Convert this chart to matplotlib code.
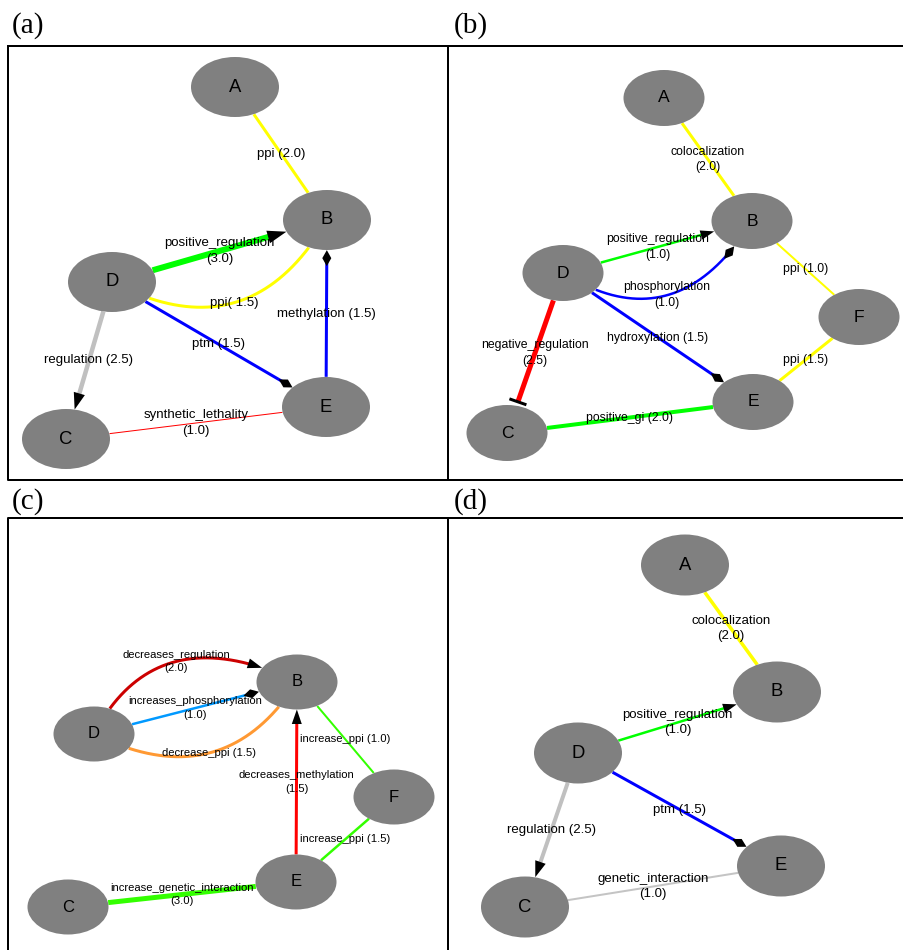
import numpy as np
import matplotlib.pyplot as plt
from matplotlib.patches import Ellipse

# ---------------- data: four small networks ----------------
# node layout (pixel positions in the figure)
a_nodes = {'A': (235, 87), 'B': (327, 220), 'C': (66, 439), 'D': (112, 282), 'E': (326, 407)}
a_src = ['A', 'D', 'D', 'D', 'E', 'D', 'C']
a_dst = ['B', 'B', 'B', 'E', 'B', 'C', 'E']
a_labels = ['ppi (2.0)', 'positive_regulation\n(3.0)', 'ppi( 1.5)', 'ptm (1.5)',
            'methylation (1.5)', 'regulation (2.5)', 'synthetic_lethality\n(1.0)']

b_nodes = {'A': (664, 98), 'B': (752, 221), 'C': (507, 433), 'D': (563, 273),
           'E': (753, 402), 'F': (859, 317)}
b_src = ['A', 'D', 'D', 'D', 'D', 'C', 'B', 'F']
b_dst = ['B', 'B', 'B', 'E', 'C', 'E', 'F', 'E']
b_labels = ['colocalization\n(2.0)', 'positive_regulation\n(1.0)', 'phosphorylation\n(1.0)',
            'hydroxylation (1.5)', 'negative_regulation\n(2.5)', 'positive_gi (2.0)',
            'ppi (1.0)', 'ppi (1.5)']

c_nodes = {'B': (297, 682), 'C': (68, 907), 'D': (94, 734), 'E': (296, 882), 'F': (394, 797)}
c_src = ['D', 'D', 'D', 'E', 'B', 'F', 'C']
c_dst = ['B', 'B', 'B', 'B', 'F', 'E', 'E']
c_labels = ['decreases_regulation\n(2.0)', 'increases_phosphorylation\n(1.0)',
            'decrease_ppi (1.5)', 'decreases_methylation\n(1.5)', 'increase_ppi (1.0)',
            'increase_ppi (1.5)', 'increase_genetic_interaction\n(3.0)']

d_nodes = {'A': (685, 565), 'B': (777, 692), 'C': (525, 907), 'D': (578, 753), 'E': (781, 866)}
d_src = ['A', 'D', 'D', 'D', 'C']
d_dst = ['B', 'B', 'E', 'C', 'E']
d_labels = ['colocalization\n(2.0)', 'positive_regulation\n(1.0)', 'ptm (1.5)',
            'regulation (2.5)', 'genetic_interaction\n(1.0)']

# ---------------- styles ----------------
a_colors = ['#ffff00', '#00ff00', '#ffff00', '#0000ff', '#0000ff', '#c0c0c0', '#ff0000']
a_widths = [3, 6, 3, 3, 3, 4.5, 1]
a_heads = [None, 'arrow', None, 'diamond', 'diamond', 'arrow', None]
a_bends = [(0, 0), (0, 0), (0.48, 0), (0, 0), (0, 0), (0, 0), (0, 0)]

b_colors = ['#ffff00', '#00ff00', '#0000ff', '#0000ff', '#ff0000', '#00ff00', '#ffff00', '#ffff00']
b_widths = [3, 2.5, 2.5, 3, 5, 4, 2, 3]
b_heads = [None, 'arrow', 'diamond', 'diamond', 'tee', None, None, None]
b_bends = [(0, 0), (0, 0), (0.50, -0.04), (0, 0), (0, 0), (0, 0), (0, 0), (0, 0)]

c_colors = ['#cc0000', '#0099ff', '#ff9933', '#ff0000', '#33ff00', '#33ff00', '#33ff00']
c_widths = [3, 2.5, 3, 3, 2, 2.5, 5]
c_heads = ['arrow', 'diamond', None, 'arrow', None, None, None]
c_bends = [(-0.476, -0.07), (0, 0), (0.448, 0.02), (0, 0), (0, 0), (0, 0), (0, 0)]

d_colors = ['#ffff00', '#00ff00', '#0000ff', '#c0c0c0', '#c4c4c4']
d_widths = [3.5, 2.5, 3, 4, 2]
d_heads = [None, 'arrow', 'diamond', 'arrow', None]
d_bends = [(0, 0), (0, 0), (0, 0), (0, 0), (0, 0)]

PX = 0.72  # points per pixel at dpi 100


def edge_path(p0, p2, rad, skew):
    p0 = np.array(p0, float)
    p2 = np.array(p2, float)
    d = p2 - p0
    length = np.hypot(*d)
    u = d / length
    n = np.array([-u[1], u[0]])
    p1 = (p0 + p2) / 2 + n * rad * length + u * skew * length
    t = np.linspace(0, 1, 801)[:, None]
    return (1 - t) ** 2 * p0 + 2 * t * (1 - t) * p1 + t ** 2 * p2


def inside(pts, c, rx, ry):
    return ((pts[:, 0] - c[0]) / rx) ** 2 + ((pts[:, 1] - c[1]) / ry) ** 2 < 1


def draw_panel(ax, nodes, src, dst, labels, colors, widths, heads, bends,
               nw, nh, node_fs, label_fs):
    rx, ry = nw / 2, nh / 2
    for s, t, lab, col, w, head, (rad, skew) in zip(src, dst, labels, colors,
                                                   widths, heads, bends):
        pts = edge_path(nodes[s], nodes[t], rad, skew)
        mid = pts[len(pts) // 2]
        keep = ~(inside(pts, nodes[s], rx, ry) | inside(pts, nodes[t], rx, ry))
        seg = pts[keep]
        tip = seg[-1]
        v = seg[-1] - seg[-8]
        v = v / np.hypot(*v)
        n = np.array([-v[1], v[0]])
        if head == 'arrow':
            L, hw = 10 + 1.5 * w, 3.5 + 0.5 * w
            base = tip - L * v
            tri = np.array([tip, base + hw * n, base - hw * n])
            ax.fill(tri[:, 0], tri[:, 1], color='black', lw=0, zorder=2)
            seg = seg[np.hypot(*(seg - tip).T) > L * 0.8]
        elif head == 'diamond':
            L, hw = 16, 4.5
            dia = np.array([tip, tip - L / 2 * v + hw * n, tip - L * v, tip - L / 2 * v - hw * n])
            ax.fill(dia[:, 0], dia[:, 1], color='black', lw=0, zorder=2)
            seg = seg[np.hypot(*(seg - tip).T) > L * 0.6]
        elif head == 'tee':
            bar = tip - 4 * v
            ends = np.array([bar + 9 * n, bar - 9 * n])
            ax.plot(ends[:, 0], ends[:, 1], color='black', lw=3 * PX,
                    solid_capstyle='butt', zorder=2)
            seg = seg[np.hypot(*(seg - tip).T) > 4]
        ax.plot(seg[:, 0], seg[:, 1], color=col, lw=w * PX,
                solid_capstyle='butt', zorder=1)
        ax.text(mid[0], mid[1], lab, ha='center', va='center', fontsize=label_fs,
                family='Liberation Sans', zorder=4, linespacing=1.42)
    for name, (x, y) in nodes.items():
        ax.add_patch(Ellipse((x, y), nw, nh, fc='#808080', ec='none', zorder=3))
        ax.text(x, y, name, ha='center', va='center', fontsize=node_fs,
                family='Liberation Sans', zorder=5)


fig = plt.figure(figsize=(9.04, 9.5), dpi=100)
ax = fig.add_axes([0, 0, 1, 1])
ax.set_xlim(0, 904)
ax.set_ylim(950, 0)
ax.axis('off')

# panel frames
blw = 2 * PX
ax.plot([8, 448, 448, 8, 8], [46, 46, 480, 480, 46], color='black', lw=blw)
ax.plot([448, 904], [46, 46], color='black', lw=blw)
ax.plot([448, 904], [480, 480], color='black', lw=blw)
ax.plot([8, 8, 448, 448], [950, 518, 518, 950], color='black', lw=blw)
ax.plot([448, 904], [518, 518], color='black', lw=blw)

for x, y, s in [(12, 33, '(a)'), (454, 33, '(b)'), (12, 509, '(c)'), (454, 509, '(d)')]:
    ax.text(x, y, s, ha='left', va='baseline', fontsize=21, family='Liberation Serif')

draw_panel(ax, a_nodes, a_src, a_dst, a_labels, a_colors, a_widths, a_heads, a_bends,
           88, 60, 13.3, 9.5)
draw_panel(ax, b_nodes, b_src, b_dst, b_labels, b_colors, b_widths, b_heads, b_bends,
           81, 56, 12.6, 8.8)
draw_panel(ax, c_nodes, c_src, c_dst, c_labels, c_colors, c_widths, c_heads, c_bends,
           81, 55, 12.0, 8.1)
draw_panel(ax, d_nodes, d_src, d_dst, d_labels, d_colors, d_widths, d_heads, d_bends,
           88, 61, 13.3, 9.5)

fig.savefig('out.png', dpi=100)
